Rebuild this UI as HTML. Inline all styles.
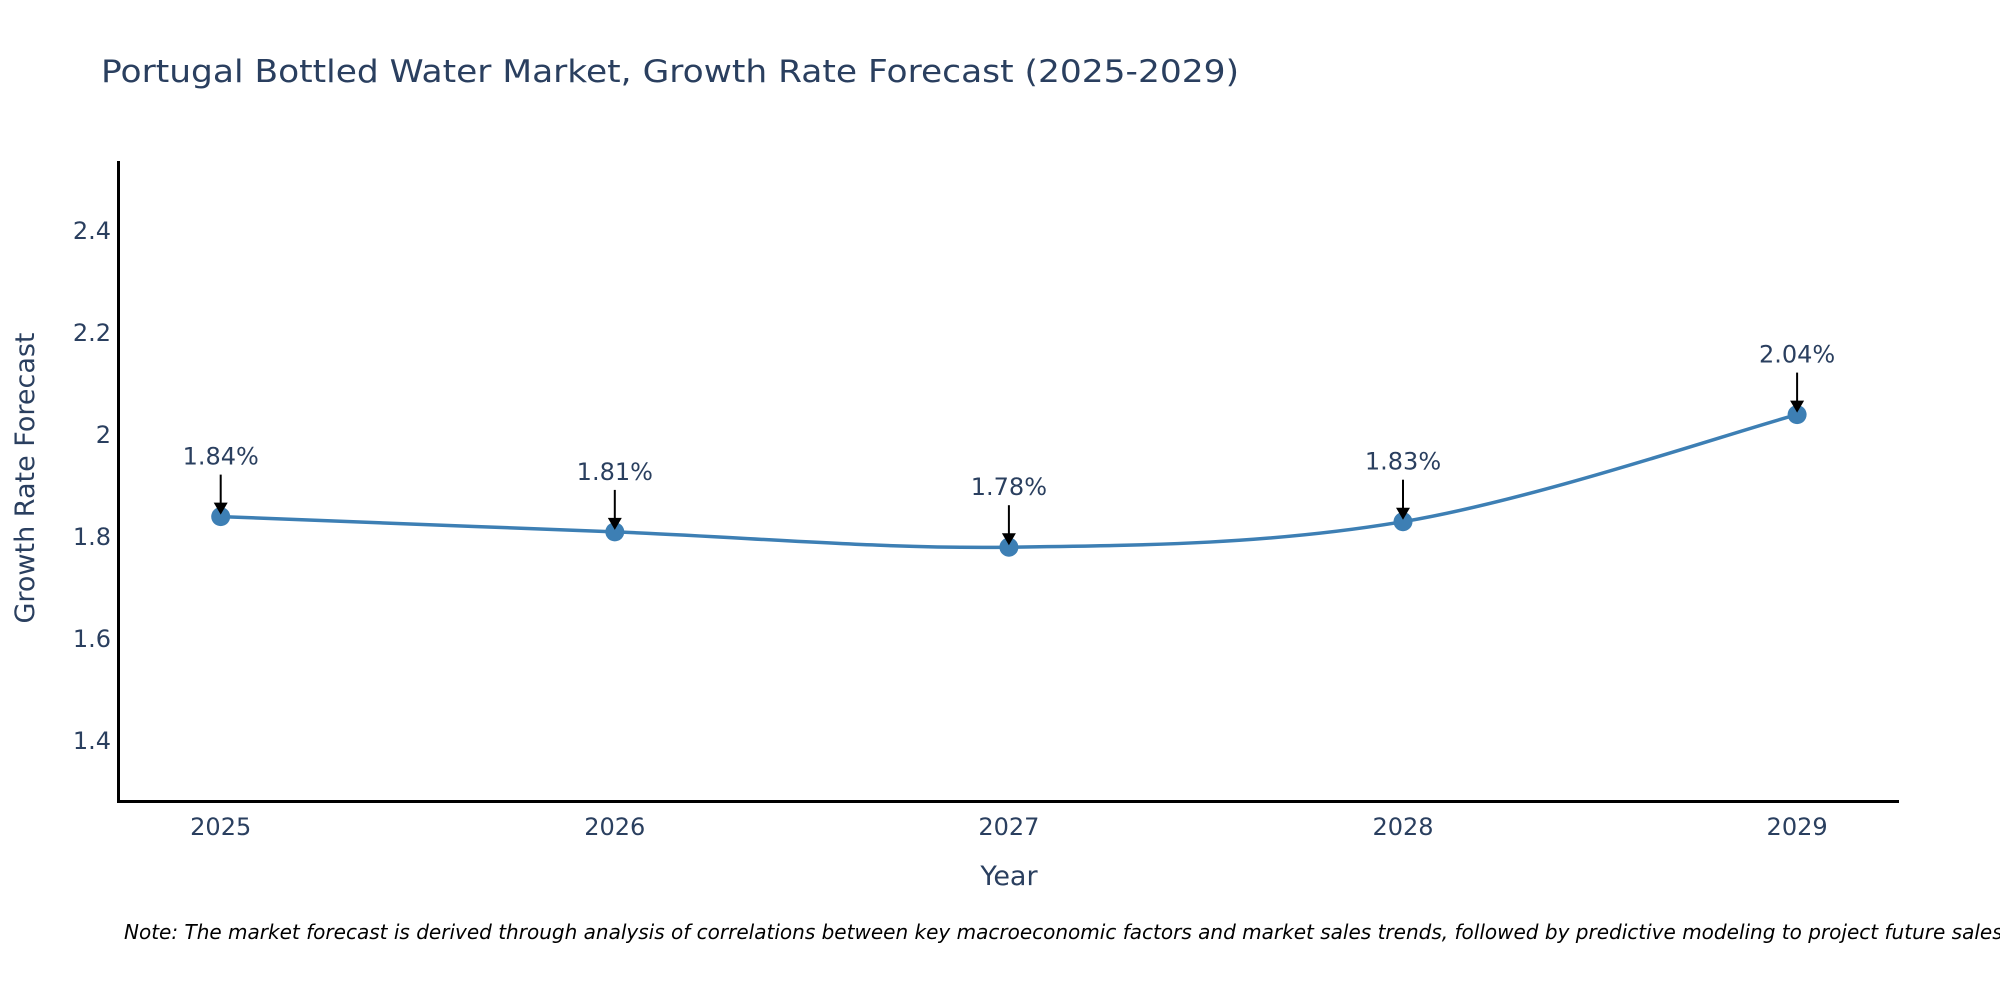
<!DOCTYPE html>
<html><head><meta charset="utf-8"><style>
body{margin:0;background:#fff;overflow:hidden}
svg{display:block;font-family:"DejaVu Sans","Liberation Sans",sans-serif}
</style></head><body>
<svg id="chart" width="2000" height="1000" viewBox="0 0 2000 1000">
<text x="101" y="82" font-size="31" fill="#2a3f5f" textLength="1138" lengthAdjust="spacingAndGlyphs">Portugal Bottled Water Market, Growth Rate Forecast (2025-2029)</text>
<g id="plot"></g>
<line x1="118.5" y1="161" x2="118.5" y2="802" stroke="#000" stroke-width="3"/>
<line x1="117" y1="801.5" x2="1899" y2="801.5" stroke="#000" stroke-width="3"/>
<text x="1009" y="885" font-size="27" fill="#2a3f5f" text-anchor="middle">Year</text>
<text transform="translate(34,478) rotate(-90)" font-size="27" fill="#2a3f5f" text-anchor="middle">Growth Rate Forecast</text>
<text x="124" y="939" font-size="20" font-style="italic" fill="#000" textLength="1885" lengthAdjust="spacingAndGlyphs">Note: The market forecast is derived through analysis of correlations between key macroeconomic factors and market sales trends, followed by predictive modeling to project future sales.</text>
</svg>
<script>
const years = [2025, 2026, 2027, 2028, 2029];
const values = [1.84, 1.81, 1.78, 1.83, 2.04];
const labels = ["1.84%", "1.81%", "1.78%", "1.83%", "2.04%"];
const yTicks = [1.4, 1.6, 1.8, 2, 2.2, 2.4];
const yTickLabels = ["1.4", "1.6", "1.8", "2", "2.2", "2.4"];

const NS = "http://www.w3.org/2000/svg";
const g = document.getElementById("plot");
function xs(v){ return 220.7 + (v - 2025) * 394.1; }
function ys(v){ return 741 - (v - 1.4) * 510; }
function mk(tag, attrs){ const e = document.createElementNS(NS, tag); for (const k in attrs) e.setAttribute(k, attrs[k]); g.appendChild(e); return e; }

yTicks.forEach((t, i) => {
  const e = mk("text", {x: 111, y: ys(t) + 8, "font-size": 24, fill: "#2a3f5f", "text-anchor": "end"});
  e.textContent = yTickLabels[i];
  
  
});
years.forEach(yr => {
  const e = mk("text", {x: xs(yr), y: 835, "font-size": 24, fill: "#2a3f5f", "text-anchor": "middle"});
  e.textContent = String(yr);
  
  
});

const pts = years.map((yr, i) => [xs(yr), ys(values[i])]);
let d = "M" + pts[0][0] + "," + pts[0][1];
const s = 0.17;
for (let i = 0; i < pts.length - 1; i++) {
  const p0 = pts[Math.max(0, i - 1)], p1 = pts[i], p2 = pts[i + 1], p3 = pts[Math.min(pts.length - 1, i + 2)];
  const c1 = [p1[0] + (p2[0] - p0[0]) * s, p1[1] + (p2[1] - p0[1]) * s];
  const c2 = [p2[0] - (p3[0] - p1[0]) * s, p2[1] - (p3[1] - p1[1]) * s];
  d += " C" + c1 + " " + c2 + " " + p2;
}
const line = mk("path", {d: d, fill: "none", stroke: "#3d7fb4", "stroke-width": 3.5});



pts.forEach((p, i) => {
  const c = mk("circle", {cx: p[0], cy: p[1], r: 9.5, fill: "#3d7fb4"});
  
  
  const a = mk("line", {x1: p[0], y1: p[1] - 42, x2: p[0], y2: p[1] - 12, stroke: "#000", "stroke-width": 2});
  
  
  const h = mk("polygon", {points: (p[0]-7)+","+(p[1]-14)+" "+(p[0]+7)+","+(p[1]-14)+" "+p[0]+","+(p[1]-2), fill: "#000"});
  
  
  const t = mk("text", {x: p[0], y: p[1] - 52, "font-size": 24, fill: "#2a3f5f", "text-anchor": "middle"});
  t.textContent = labels[i];
  
  
});
</script>
</body></html>
